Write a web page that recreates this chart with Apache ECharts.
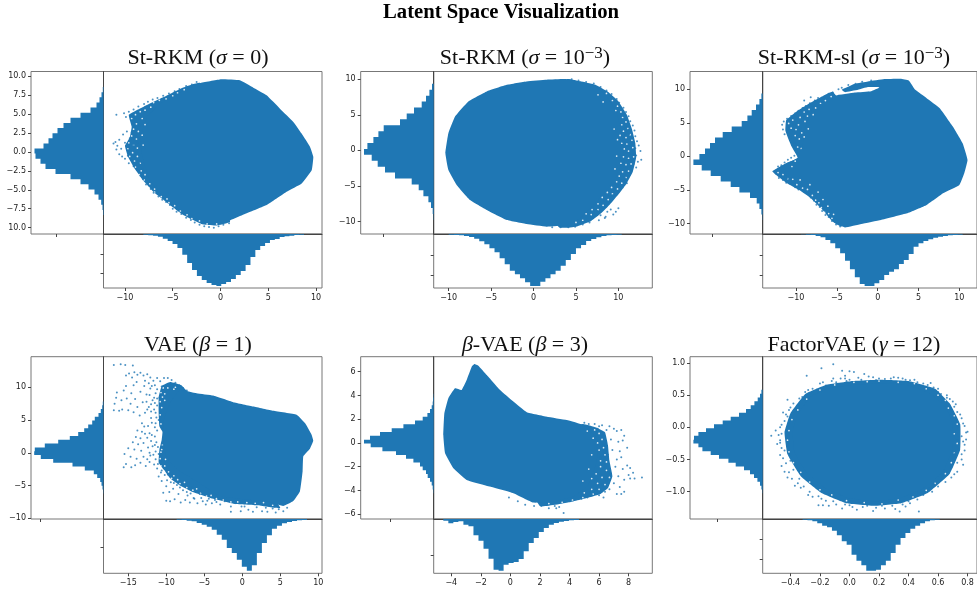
<!DOCTYPE html>
<html lang="en">
<head>
<meta charset="UTF-8">
<script src="https://cdn.jsdelivr.net/npm/echarts@6/dist/echarts.min.js"></script>
<title>Latent Space Visualization</title>
<style>html,body{margin:0;padding:0;background:#fff;overflow:hidden}</style>
</head>
<body>
<div id="main" style="width:977px;height:592px;"></div>
<script type="text/javascript">
// dense core of each cloud (data coordinates)
var core1 = [[-0.05,9.56],[2.04,9.43],[3.44,8.46],[4.83,7.46],[6.23,5.7],[7.63,3.95],[8.5,2.41],[9.37,0.66],[9.72,-0.66],[9.55,-2.41],[8.5,-4.17],[6.93,-5.26],[4.83,-7.02],[2.74,-8.11],[0.65,-9.21],[-0.75,-9.52],[-2.15,-9.21],[-3.54,-8.33],[-4.94,-7.24],[-6.33,-5.48],[-7.38,-3.73],[-8.08,-1.1],[-8.43,1.54],[-7.73,4.61],[-6.33,6.36],[-3.89,8.03],[-2.15,9.08]];
var core2 = [[1.55,9.91],[3.91,10],[7.05,9.2],[8.62,7.56],[9.8,5.22],[10.39,2.41],[10.59,-0.4],[10,-3.21],[8.62,-5.55],[7.05,-7.66],[5.48,-9.53],[3.91,-10.47],[1.55,-10.7],[-0.81,-10.33],[-3.16,-9.77],[-5.52,-8.36],[-7.49,-6.96],[-9.06,-4.85],[-10.04,-2.74],[-10.39,-0.4],[-10.04,2.41],[-9.25,4.75],[-7.68,6.86],[-5.52,8.27],[-3.16,9.2],[-0.81,9.67]];
var core3 = [[-8,6.92],[-6,8.66],[-5.2,9.06],[-2.8,9.5],[-0.8,9.7],[0.2,10.25],[-1.2,10.3],[-2.4,9.9],[-4,9.55],[-4.4,9.9],[-2.8,10.79],[-1.2,11.14],[0.8,11.49],[2.8,11.54],[3.8,11.29],[4.6,9.9],[6,8.66],[7.6,7.17],[9.2,4.44],[10.4,1.96],[11,-0.52],[10.6,-2.51],[10,-4.24],[8,-5.48],[6,-7.22],[3.6,-8.46],[0.4,-9.45],[-2,-10.05],[-4,-10.55],[-5.2,-9.95],[-6.4,-8.21],[-7.6,-5.98],[-9.2,-4.24],[-10.8,-3],[-12.7,-2.16],[-11.2,-1],[-9.8,-0.27],[-9.2,1.71],[-8.8,4.44]];
var core4 = [[-3.82,8.73],[-1.18,7.72],[1.45,7.06],[4.08,6.4],[7.15,5.8],[8.25,4.53],[9.12,2.76],[9.34,1.85],[8.9,0.63],[8.03,-0.53],[7.94,-2.81],[7.59,-5.85],[6.71,-7.37],[5.39,-8.13],[3.2,-7.37],[0.13,-7.11],[-2.94,-6.61],[-6.01,-4.33],[-8.2,-2.81],[-9.96,-0.78],[-10.39,2.25],[-10.39,4.78],[-9.52,7.57],[-8.2,9.59],[-6.01,9.09]];
var core5 = [[-2.44,6.64],[-2.17,6.5],[-1.6,5.72],[-0.7,4.46],[0.2,3.48],[1.11,2.58],[2.46,2.21],[3.81,1.93],[4.94,1.51],[5.85,0.39],[5.85,-1.57],[5.28,-3.53],[4.27,-4.51],[2.91,-4.93],[1.56,-5.02],[0.2,-4.23],[-1.38,-3.67],[-2.96,-3.11],[-3.86,-2.13],[-4.42,-0.87],[-4.54,0.67],[-4.47,2.5],[-4.2,3.76],[-3.75,4.6],[-3.3,4.46],[-2.96,5.3],[-2.62,6.42]];
var core6 = [[0.213,0.687],[0.39,0.66],[0.545,0.53],[0.656,0.3],[0.7,0.04],[0.7,-0.32],[0.634,-0.687],[0.5,-0.946],[0.346,-1.1],[0.169,-1.153],[-0.008,-1.1],[-0.163,-0.946],[-0.296,-0.687],[-0.374,-0.376],[-0.385,-0.065],[-0.351,0.194],[-0.263,0.479],[-0.141,0.609],[0.014,0.66]];

// outer edge of the thinner band around the core
var band1 = [[-2.15,9.1],[-3.9,8.5],[-6,7.2],[-8,6],[-9.6,4.9],[-9.3,3.3],[-9.5,1.9],[-10,0.8],[-9.7,-0.6],[-9,-2.2],[-8.2,-3.6],[-7,-5.3],[-5.5,-6.8],[-3.8,-8.4],[-2,-9.5],[-0.5,-9.7],[1,-9.2],[0,0]];
var band2 = [[3.9,10],[5.5,9.7],[7.3,9.2],[8.8,8.2],[10,6.9],[11,5],[11.6,3],[12,1],[12.1,-1],[11.7,-3],[10.9,-4.8],[10,-6.2],[9,-7.6],[8,-8.8],[6.8,-9.9],[5,-10.7],[3,-10.8],[0,0]];
var band3 = [[-9.8,-0.2],[-10.6,1.6],[-11.3,3.8],[-11.2,5.4],[-9.8,6.8],[-8.5,7.8],[-7,8.8],[-5.5,9.6],[0,0],[-4.4,-10.4],[-5.6,-9.6],[-7,-7.6],[-8.2,-6.2],[-9.6,-5],[-11.2,-3.9],[-12.4,-2.8],[-12.9,-2.2],[-11.5,-1.2]];
var band4 = [[-8,10.3],[-9.5,10.8],[-10.6,10.2],[-11,8.5],[-11,6],[-10.9,4],[-10.5,3.2],[-10.6,2],[-10.9,0.5],[-11,-1.5],[-10.3,-2.6],[-9.5,-3.9],[-8.2,-5],[-6.5,-6],[-4.2,-6.9],[-1,-7.8],[2,-8],[5,-8.4],[0,0]];
var band5 = [[4.9,1.6],[5.8,1.3],[6.4,0.9],[6.6,-0.2],[6.7,-1.5],[6.9,-2.8],[6.6,-3.8],[6.1,-4.3],[5.3,-4.6],[4,-5],[2,-5.3],[0,0]];
var band6 = [[0.2,0.74],[0.4,0.72],[0.58,0.6],[0.68,0.37],[0.75,0.05],[0.75,-0.35],[0.68,-0.72],[0.53,-1.02],[0.35,-1.18],[0.17,-1.22],[-0.02,-1.18],[-0.19,-1.02],[-0.33,-0.76],[-0.42,-0.42],[-0.44,-0.08],[-0.4,0.22],[-0.3,0.52],[-0.16,0.66],[0.02,0.72]];

// empty specks inside the band
var gaps1 = [[-9.3,4.4],[-8.9,4.9],[-8.4,5.3],[-8.8,3.7],[-8.2,4.4],[-7.9,5.5],[-7.3,5.9],[-7,6.5],[-6.4,6.8],[-5.7,7],[-5,7.4],[-4.5,7.8],[-3.8,8.2],[-9.1,3],[-8.6,2.7],[-9.3,2.1],[-8.8,1.7],[-9.6,1.2],[-9.1,0.9],[-9.7,0.4],[-8.7,0.5],[-9.2,-0.1],[-9.5,-0.6],[-8.7,-0.6],[-9,-1.2],[-8.4,-1.5],[-8.9,-2],[-8.3,-2.5],[-8.5,-3],[-7.9,-3],[-8,-3.7],[-7.4,-4.2],[-7.5,-4.7],[-6.9,-4.9],[-6.9,-5.3],[-6.2,-5.9],[-5.6,-6.2],[-5.4,-6.7],[-4.8,-7.1],[-4.2,-7.8],[-3.5,-8.3],[-3,-8.8],[-2.2,-9.1],[-1.4,-9.5],[-0.4,-9.5],[-8.1,0.9],[-8.2,2.2],[-7.9,3.6]];
var gaps2 = [[8.6,8],[9.3,7],[9.9,6.2],[10.3,5.4],[9.7,5.6],[10.5,4.6],[10.9,4],[10.4,3.6],[11.1,3.1],[10.6,2.7],[11.4,2.2],[10.9,1.8],[10.2,2.1],[11.6,1.4],[11,0.9],[10.4,1],[11.7,0.4],[11.2,-0.1],[10.7,0.2],[11.8,-0.9],[11.2,-1.1],[10.6,-0.9],[11.5,-1.9],[10.9,-2],[10.3,-1.8],[11.2,-2.9],[10.5,-3],[10.9,-3.8],[10.1,-3.6],[10.4,-4.6],[9.8,-4.4],[9.9,-5.4],[9.2,-5.2],[9.3,-6.1],[8.7,-5.9],[8.8,-6.9],[8.1,-6.6],[8.2,-7.7],[7.6,-7.5],[7.6,-8.3],[6.9,-8.3],[6.8,-9],[6.2,-8.9],[5.8,-9.8],[5,-10.1],[9.5,3],[9.9,1.5],[8.2,6.8],[7.6,7.8],[9.8,-0.8],[9.6,-2.6]];
var gaps3 = [[-10.9,4.9],[-10.6,4.2],[-10.4,5.4],[-10,4],[-10.1,3.1],[-9.7,4.7],[-9.5,5.8],[-9.6,2.6],[-9.3,3.5],[-9.4,1.2],[-9.8,1.4],[-9,6.6],[-8.9,5.2],[-9,2.9],[-8.6,6],[-8.4,7],[-8.5,4.1],[-7.9,6.2],[-7.6,7.2],[-7,7.9],[-6.4,8.3],[-5.7,8.9],[-5,9.2],[-12.2,-2.4],[-11.6,-2.7],[-11,-3.3],[-10.4,-3.4],[-9.9,-4.2],[-9.2,-4.7],[-8.6,-4.9],[-8,-5.8],[-7.6,-6.5],[-7.2,-6.9],[-6.9,-7.6],[-6.5,-8.3],[-6,-8.5],[-5.6,-9.2],[-8.3,-4.2],[-7.3,-5.3],[-6.7,-6.4],[-6.1,-7.4],[-5.4,-8.6],[-9.5,-3.5],[-10.5,-1.5],[-10.1,-0.7]];
var gaps4 = [[-10.4,9.9],[-10.7,9.2],[-10.8,7.8],[-10.8,5.8],[-10.6,6.9],[-10.7,4.4],[-9.8,9.9],[-9,9.7],[-8.8,10],[-10.2,9],[-10.2,8],[-10.5,8.5],[-10.5,1.2],[-10.7,0.1],[-10.8,-0.9],[-10.7,-2],[-10.2,-2],[-10.6,0.5],[-10.1,-1],[-9.7,-2.9],[-9,-3.5],[-9.3,-3.9],[-8.5,-4.1],[-8.2,-4.7],[-7.6,-4.5],[-7.3,-5.3],[-6.5,-5.7],[-6,-5.5],[-5.5,-6.2],[-4.7,-6.6],[-4.1,-6.5],[-3.4,-7],[-2.5,-7.2],[-1.5,-7.5],[-0.6,-7.5],[0.6,-7.6],[1.7,-7.7],[2.8,-7.6],[4,-8]];
var gaps5 = [[5.7,1.1],[6,0.8],[6.2,0.3],[5.9,0],[6.3,-0.4],[6,-0.6],[6.4,-1],[6.1,-1.5],[6.5,-1.6],[6.1,-2],[6.5,-2.3],[6.2,-2.9],[6.7,-2.9],[5.8,-2.6],[5.5,-3],[5.9,-3.4],[6.4,-3.5],[6,-3.9],[5.5,-3.9],[5.6,-4.3],[5,-4.2],[4.9,-4.6],[4.2,-4.8],[3.5,-5],[2.6,-5.1],[5.2,1],[5.6,0.4],[5.5,-1],[5.3,-2.2],[4.9,-3.2]];
var gaps6 = [[0.2,0.72],[0.33,0.7],[0.44,0.68],[0.52,0.6],[0.6,0.5],[0.65,0.42],[0.67,0.3],[0.71,0.18],[0.73,0.05],[0.71,-0.1],[0.73,-0.25],[0.71,-0.4],[0.69,-0.55],[0.65,-0.72],[0.58,-0.87],[0.52,-0.98],[0.43,-1.08],[0.33,-1.13],[0.22,-1.19],[0.1,-1.17],[-0.02,-1.14],[-0.12,-1.05],[-0.2,-0.97],[-0.27,-0.85],[-0.33,-0.7],[-0.38,-0.55],[-0.41,-0.38],[-0.42,-0.2],[-0.41,-0.05],[-0.39,0.12],[-0.35,0.27],[-0.29,0.44],[-0.2,0.58],[-0.1,0.66],[0.03,0.7],[0.12,0.71]];

// loose points around the core
var loose1 = [[-10.9,4.9],[-10.1,5.1],[-9.9,4.6],[-9.6,5.3],[-9.3,4.9],[-9.1,5.6],[-8.9,4.3],[-8.7,5.2],[-8.5,3.4],[-9.2,3.8],[-8.6,6],[-8.2,5.6],[-8,6.3],[-7.6,6.6],[-7.1,6.9],[-6.6,7.1],[-6,7.4],[-5.4,7.7],[-4.8,8],[-4.3,8.3],[-3.6,8.7],[-3,8.9],[-2.5,9.2],[-11.2,1.1],[-11,1.3],[-10.8,0.8],[-10.6,1.6],[-10.4,0.4],[-10.2,2.3],[-10,1.2],[-9.8,2.7],[-9.7,0.2],[-9.5,1.8],[-9.3,2.6],[-9.1,0.9],[-8.9,2.1],[-8.8,-0.2],[-8.7,1.2],[-10.9,0.3],[-10.6,-0.3],[-10.3,-0.6],[-10,-0.9],[-9.7,-0.5],[-9.6,-1.5],[-9.3,-1.1],[-9.1,-1.9],[-8.9,-0.8],[-8.7,-2.4],[-8.5,-1.6],[-8.4,-3.1],[-8.2,-2.3],[-8.1,-3.6],[-7.8,-4.3],[-7.6,-3.2],[-7.3,-4.9],[-7,-5.4],[-6.8,-4.5],[-6.5,-5.9],[-6.1,-6.3],[-5.7,-6.6],[-5.3,-7],[-5,-7.5],[-4.6,-7.9],[-4.1,-8.2],[-3.6,-8.7],[-3.1,-9],[-2.7,-9.3],[-2.2,-9.6],[-1.7,-9.8],[-1.2,-9.9],[-0.7,-10],[-0.2,-9.8],[0.3,-9.6],[0.9,-9.4]];
var loose2 = [[4.5,10],[5.3,9.8],[6.2,9.6],[7.1,9.4],[7.9,8.9],[8.6,8.4],[9.2,7.9],[9.8,7.2],[10.1,6.7],[10.6,6],[10.9,5.4],[11.2,4.8],[11.4,4.1],[10.5,4.4],[11.7,3.5],[11,3.2],[11.9,2.8],[12,2],[11.3,2.3],[12.2,1.3],[11.6,1.2],[12.4,0.7],[12,0.3],[11.2,0.6],[12.6,-0.1],[12.1,-0.7],[11.5,-0.5],[12.7,-1.3],[12.3,-1.6],[11.8,-1.9],[11.3,-1.4],[12.1,-2.4],[11.6,-2.8],[11,-2.3],[11.3,-3.5],[10.8,-3.9],[11,-4.6],[10.4,-4.2],[10.5,-5.2],[9.9,-4.9],[10,-5.9],[9.5,-5.6],[9.3,-6.3],[8.8,-6.5],[9,-7.2],[8.4,-7.1],[10,-8.1],[9.7,-8.6],[9.1,-8.3],[9.4,-9],[8.7,-8.6],[8.2,-8],[8.5,-9.3],[7.9,-9.1],[7.5,-8.5],[7.7,-9.8],[7,-9.5],[6.6,-10.1],[5.8,-10.4],[4.9,-10.7],[4.1,-10.8],[3.2,-10.8],[2.2,-10.8],[8.4,-9.5]];
var loose3 = [[-11.7,4.7],[-11.6,4],[-11.4,3.3],[-11.5,5.2],[-11.1,5.6],[-10.9,4.4],[-10.7,2.8],[-10.6,6],[-10.4,3.9],[-10.2,2],[-10.1,6.4],[-10,5],[-9.8,3],[-9.7,6.8],[-9.5,1.3],[-9.4,4.2],[-9.2,7.2],[-9,5.8],[-8.8,7.5],[-8.6,6.6],[-8.3,7.9],[-8,7.6],[-7.7,8.3],[-7.3,8.7],[-6.9,8.1],[-6.5,8.9],[-6,9.3],[-9,8.3],[-8.2,8.8],[-5.5,9.5],[-4.8,10],[-12.4,-2.6],[-12.1,-3.2],[-11.8,-2.9],[-11.6,-3.5],[-11.2,-3.9],[-11,-3.2],[-10.7,-4.1],[-10.4,-3.7],[-10.1,-4.6],[-9.7,-4.9],[-9.4,-4.5],[-9,-5.2],[-8.6,-5.5],[-8.2,-6.1],[-7.8,-6.6],[-7.5,-7.2],[-7.1,-7.5],[-6.8,-8.1],[-6.4,-8.7],[-6,-9],[-5.6,-9.6],[-5.1,-10.1],[-4.6,-10.4],[-12.2,-1.5],[-11.8,-1.3],[-11.4,-0.9],[-11,-0.5],[-10.6,-0.2],[-10.2,0.1],[-9.8,0.5],[-3.6,10.6],[-2.7,10.8],[-1.9,11.1],[-0.8,11.3],[-4.4,10.2]];
var loose4 = [[-16.9,13.4],[-16,13.5],[-15.4,13.4],[-14.4,13.3],[-15.3,11.8],[-14.9,12.1],[-14.5,11.5],[-14.2,12.3],[-13.8,11.9],[-13.4,12.2],[-13,11.8],[-12.5,12],[-12.1,11.5],[-11.7,11],[-11.2,11.4],[-10.8,10.9],[-10.3,11.4],[-9.8,11.4],[-9.3,11.1],[-8.8,10.7],[-8.3,10.3],[-7.8,9.9],[-7.3,9.5],[-6.8,9.1],[-6.2,8.9],[-5.4,8.8],[-16.5,9.2],[-16.6,8.4],[-16.8,7.5],[-16.9,6.5],[-16.2,6.4],[-15.8,6.6],[-15.9,8],[-15.6,9.5],[-15.3,10.2],[-15.2,8.3],[-15,6.5],[-14.7,7.5],[-14.6,9.1],[-14.3,10.3],[-14.3,6.2],[-14.1,8.2],[-13.9,10.8],[-13.8,7],[-13.5,5.7],[-13.4,9.3],[-13.2,4.5],[-13.1,7.7],[-12.9,10.2],[-12.8,6.1],[-12.6,8.9],[-12.4,4.1],[-12.3,7],[-12.1,9.8],[-12,5.3],[-11.8,8],[-11.6,6.6],[-11.5,3.9],[-11.4,9.1],[-11.2,7.2],[-11,5],[-10.9,8.4],[-10.7,6.2],[-10.6,10.1],[-10.5,3.8],[-13.8,3.4],[-13.2,3.2],[-12.8,2.9],[-14,2.4],[-13.4,2.2],[-12.5,2.3],[-14.4,1.6],[-13.7,1.3],[-13,1.5],[-12,1.8],[-15,0.7],[-14.2,0.5],[-13.3,0.3],[-12.4,0.8],[-11.5,2.5],[-11.4,0.2],[-15.5,-0.2],[-14.7,-0.6],[-13.9,-0.9],[-13,-0.6],[-12.1,-0.4],[-11,-0.2],[-15.3,-1.7],[-15.6,-2.2],[-14.6,-2.2],[-14.1,-1.9],[-13.4,-1.5],[-12.7,-2],[-12.2,-1.4],[-11.6,-1.8],[-11.2,-2.4],[-10.7,-1.2],[-10.4,1.2],[-10.6,-2.7],[-9.8,-3.3],[-11,-3.6],[-10.2,-3.4],[-9.4,-4.5],[-10.6,-4.3],[-10,-5.1],[-10.4,-6.1],[-10,-7.3],[-9.6,-6],[-9.1,-5.5],[-9.5,-7.4],[-8.9,-7.1],[-8.6,-4.9],[-8.4,-6.3],[-8.1,-7.6],[-7.8,-5.7],[-7.5,-7.2],[-7.2,-6.5],[-6.9,-7.6],[-6.6,-5.3],[-6.3,-7],[-5.9,-7.7],[-5.6,-6.3],[-5.2,-7.4],[-4.8,-7.9],[-4.4,-7],[-4,-7.7],[-3.4,-7.5],[-2.9,-7.9],[-2.3,-7.4],[-1.5,-8.2],[-1.1,-7.6],[-0.2,-8.9],[0.3,-8.2],[0.8,-8.7],[1.4,-9],[1.9,-8.3],[2.6,-8.9],[3.1,-8.4],[3.3,-9],[4,-8.5],[4.4,-9.1],[4.8,-8.6],[5.4,-8.9],[5.9,-8.4],[-1.5,-9],[-0.1,-8.2],[-12.8,11],[-12.3,10.6],[-11.9,10.2],[-11.5,10.3],[-11.2,9.7],[-12.2,8.8],[-11.6,8.4],[-11.2,8.3],[-12.6,7.8],[-12,7.4],[-11.5,7.6],[-12.5,6.6],[-12,6.3],[-11.4,6.1],[-11.3,5.4],[-11.9,4.6],[-11.4,4.5],[-11.2,3.4],[-12.9,4],[-12.2,3],[-11.9,2.7],[-11.3,1.6],[-11.8,1],[-11.5,1.2],[-11.1,0.9],[-12.2,0],[-11.7,-0.3],[-11.4,-1],[-11.1,-1.7],[-12.5,-1],[-10.7,-3],[-9.9,-4.2],[-9,-4.6],[-8.2,-5.3],[-7.3,-6],[-6.8,-6.2],[-6.4,-6.9],[-5.4,-6.9],[-4.6,-7.3],[-3.6,-7.2]];
var loose5 = [[5.9,1.2],[6.2,1.5],[6.5,1.1],[6.7,1.4],[7,1.2],[7.2,1],[7.5,1.1],[7.7,0.6],[6.2,0.6],[6.8,0.3],[7.3,0.1],[7.6,0.2],[7.9,-0.4],[7.4,-0.7],[6.9,-0.6],[6.3,-0.2],[6.6,-1],[7.2,-1.4],[7.5,-1.2],[6.1,-1.2],[7.9,-1.9],[8.1,-2.1],[8.3,-2.5],[8,-2.7],[7.6,-2.2],[7.1,-2],[6.4,-1.9],[6.8,-2.6],[7.3,-2.8],[7.7,-3.1],[8.1,-3],[8.9,-2.9],[8.4,-3],[6.1,-2.7],[6.5,-3.1],[7,-3.4],[7.4,-3.7],[7.7,-4.1],[7.2,-4.3],[6.7,-3.9],[6.4,-4.1],[6.2,-3.5],[5.9,-3.1],[5.8,-3.9],[6.3,-4.6],[6,-4.4],[5.5,-4.4],[5.2,-4.6],[4.8,-4.7],[7.5,-4.3],[5,1.7],[5.3,1.6],[5.7,1.6],[6,1.4],[3,-5.3],[3.3,-5.4],[3.1,-5.5],[3.6,-5.9],[2.6,-5.5],[2.1,-5.3],[1,-5.2],[1.6,-5.3],[0.5,-4.9],[-0.1,-4.6]];
var loose6 = [[-0.11,0.98],[-0.19,0.92],[-0.05,0.88],[-0.03,0.8],[0,0.87],[0.03,0.86],[-0.29,0.8],[-0.11,0.76],[-0.02,0.72],[0.13,0.79],[0.08,0.74],[0.18,0.73],[0.28,0.76],[0.33,0.77],[0.36,0.76],[0.41,0.73],[0.46,0.7],[0.55,0.69],[0.5,0.62],[0.57,0.62],[0.6,0.55],[0.66,0.5],[0.68,0.44],[0.63,0.4],[0.72,0.36],[0.69,0.28],[0.75,0.2],[0.72,0.12],[0.77,0.06],[0.73,0],[0.8,-0.07],[0.76,-0.14],[0.73,-0.2],[0.79,-0.19],[0.78,-0.27],[0.74,-0.34],[0.71,-0.41],[0.76,-0.5],[0.73,-0.55],[0.69,-0.62],[0.73,-0.69],[0.66,-0.74],[0.62,-0.82],[0.57,-0.88],[0.54,-0.95],[0.47,-1.02],[0.43,-1.06],[0.47,-1.31],[0.41,-1.18],[0.38,-1.23],[0.34,-1.31],[0.31,-1.27],[0.27,-1.17],[0.22,-1.22],[0.16,-1.3],[0.12,-1.22],[0.05,-1.28],[0,-1.21],[-0.05,-1.26],[-0.09,-1.2],[-0.14,-1.22],[-0.18,-1.21],[-0.21,-1.21],[-0.19,-1.11],[-0.25,-1.08],[-0.27,-1],[-0.31,-0.92],[-0.37,-0.91],[-0.34,-0.8],[-0.42,-0.78],[-0.44,-0.69],[-0.38,-0.66],[-0.46,-0.6],[-0.4,-0.52],[-0.47,-0.43],[-0.44,-0.36],[-0.49,-0.26],[-0.53,-0.13],[-0.47,-0.2],[-0.46,-0.1],[-0.47,0],[-0.41,0.02],[-0.5,-0.05],[-0.44,0.1],[-0.42,0.17],[-0.45,0.23],[-0.37,0.24],[-0.4,0.31],[-0.35,0.35],[-0.42,0.43],[-0.32,0.47],[-0.27,0.53],[-0.3,0.55],[-0.22,0.59],[-0.16,0.65],[-0.2,0.68],[-0.09,0.7],[0.2,0.76],[0.24,0.75],[0.06,0.77],[-0.03,0.76],[0.1,0.83],[0.16,0.78],[0.3,0.78],[0.38,0.74],[0.44,0.74],[0.5,0.68],[0.53,0.66],[0.6,0.6],[0.62,0.52],[0.66,0.46],[0.7,0.4],[0.71,0.32],[0.73,0.24],[0.76,0.14],[0.78,0.02],[0.79,-0.08],[0.77,-0.22],[0.78,-0.36],[0.76,-0.42],[0.77,-0.58],[0.71,-0.73],[0.69,-0.78],[0.65,-0.85],[0.6,-0.92],[0.56,-1],[0.5,-1.05],[0.46,-1.12],[0.4,-1.15],[0.36,-1.2],[0.29,-1.22],[0.24,-1.26],[0.18,-1.25],[0.09,-1.24],[0.02,-1.24],[-0.03,-1.2],[-0.11,-1.15],[-0.16,-1.14],[-0.21,-1.07],[-0.28,-1.05],[-0.33,-0.94],[-0.35,-0.87],[-0.39,-0.8],[-0.41,-0.7],[-0.43,-0.56],[-0.45,-0.48],[-0.46,-0.32],[-0.47,-0.24],[-0.48,-0.12],[-0.46,0.04],[-0.43,0.2],[-0.41,0.27],[-0.38,0.37],[-0.34,0.45],[-0.28,0.58],[-0.25,0.6],[-0.18,0.7],[-0.12,0.72],[-0.06,0.76],[0,0.74]];

// histogram under each cloud (x marginal), bar lengths
var xHist1 = [0.7,1.3,1.7,2.7,4.7,7,10,14,20.7,29,36,42,46,49,51,52,50,48,45,41,37,31,23,16,12,9,6,5,3,2.3,1.7,1,0.7];
var xHist2 = [0.7,1,1.3,2,3,4.7,7.3,10.3,14.3,18.3,24.3,30.3,36.7,40.3,44.3,48.3,52,52,47.7,44.3,40.3,36.7,31.7,26,20,14.3,11,7,5,3.3,2,1.3,1,0.7];
var xHist3 = [0.3,0.7,1,2,3.3,6,9.3,14.3,19.3,26.7,35.3,43.3,50,52,52,49.3,46,41,37.7,35.3,30,26,20,12.7,9.3,7,5.3,3.7,2.7,2,1.3,1,0.7];
var xHist4 = [0.7,1,1.7,2.3,4,5.7,7.7,10.7,15.7,20.7,29,34,40.7,47.7,51.7,46.3,34,24,16.3,9.7,6.7,4.3,3,2,1.3,1];
var xHist5 = [1.7,4.3,3,2.3,5.7,7.3,16.3,21.7,29.7,39.7,50.7,51.7,45.7,44,43,40,32.3,24,19,13,9,5.7,4,2.7,2,1.3,1];
var xHist6 = [0.7,1.3,2.3,4.3,6.7,8.3,11.7,16.3,22.3,25.7,35.7,41.7,46.3,51.7,51.7,50.7,46.3,41.7,34,25.7,19,14,9.7,6.7,4.3,2.3,1.3,0.7];

// histogram left of each cloud (y marginal), from low y to high y
var yHist1 = [0.5,1,2.3,5,9,15,23,33,48,58,63,68,69,60,55,51,46,40,33,23,13,7,4,2,0.7];
var yHist2 = [0.3,1,2.7,5.3,10.3,15,22,38.7,48.7,56,62,69.7,66.3,60.3,55.3,50,33.7,27,19.7,12,7.7,4.3,1.7];
var yHist3 = [0.3,1.3,3.3,6,12.7,23.3,32,42,52,61,69.3,63.3,57.7,52.7,47.7,40,31,21,15.3,11,6.7,3.3,1.3];
var yHist4 = [0.3,1,2,3.3,6.3,9.7,18.7,31,50.3,62.7,69.3,68.7,58.7,45.3,33.7,25.3,19.3,15.3,11.3,8.7,5,2.7,1.3,0.7];
var yHist5 = [0.3,1,2,3.7,6,7.7,11,13.7,20.3,27.7,37.7,51.3,63,69.7,63.7,53.7,42,30.3,18.7,11,6.3,3.7,2,1,0.7,0.3];
var yHist6 = [0.3,1.3,2.7,5.3,8.7,12.7,18.7,27,34.3,43.7,52,60.3,64.3,69.3,68.7,64.3,56.7,48.7,40,32,23.7,16.7,12,8.3,5,2.7,1.3];

// first bin edge and bin width of the histograms
var xBins = [[-8.08,0.51],[-10,0.6],[-9.4,0.6],[-8.64,0.66],[-4.54,0.34],[-0.318,0.0332]];
var yBins = [[-8.33,0.675],[-9.75,0.83],[-9.45,0.818],[-6.2,0.585],[-4.23,0.322],[-1.026,0.0596]];

// axis ranges
var xRanges = [[-12.25,10.63],[-11.77,14],[-14.08,12.16],[-18.26,10.49],[-5.19,9.6],[-0.588,0.864]];
var yRanges = [[-10.83,10.6],[-11.73,11.07],[-11.53,12.62],[-10.1,14.66],[-6.4,7.26],[-1.425,1.098]];

// tick values and tick labels
var xTicks = [[-10,-5,0,5,10],[-10,-5,0,5,10],[-10,-5,0,5,10],[-15,-10,-5,0,5,10],[-4,-2,0,2,4,6,8],[-0.4,-0.2,0,0.2,0.4,0.6,0.8]];
var xTickLabels = [
  ['−10','−5','0','5','10'],['−10','−5','0','5','10'],['−10','−5','0','5','10'],
  ['−15','−10','−5','0','5','10'],['−4','−2','0','2','4','6','8'],['−0.4','−0.2','0.0','0.2','0.4','0.6','0.8']
];
var yTicks = [[10,7.5,5,2.5,0,-2.5,-5,-7.5,-10],[10,5,0,-5,-10],[10,5,0,-5,-10],[10,5,0,-5,-10],[6,4,2,0,-2,-4,-6],[1,0.5,0,-0.5,-1]];
var yTickLabels = [
  ['10.0','7.5','5.0','2.5','0.0','−2.5','−5.0','−7.5','10.0'],
  ['10','5','0','−5','−10'],['10','5','0','−5','−10'],['10','5','0','−5','−10'],
  ['6','4','2','0','−2','−4','−6'],['1.0','0.5','0.0','−0.5','−1.0']
];
var xHistTicks = [[47.5],[50.4],[50.4],[62.8],[43],[45.4]];
var yHistTicks = [[20,39.5],[21,41],[21,41],[28.7],[36],[20.3,40]];

var panelTitles = [
  '{r|St-RKM (}{i|σ}{r| = 0)}',
  '{r|St-RKM (}{i|σ}{r| = 10}{s|−3}{r|)}',
  '{r|St-RKM-sl (}{i|σ}{r| = 10}{s|−3}{r|)}',
  '{r|VAE (}{i|β}{r| = 1)}',
  '{i|β}{r|-VAE (}{i|β}{r| = 3)}',
  '{r|FactorVAE (}{i|γ}{r| = 12)}'
];
var cores = [core1, core2, core3, core4, core5, core6];
var bands = [band1, band2, band3, band4, band5, band6];
var gaps = [gaps1, gaps2, gaps3, gaps4, gaps5, gaps6];
var looses = [loose1, loose2, loose3, loose4, loose5, loose6];
var xHists = [xHist1, xHist2, xHist3, xHist4, xHist5, xHist6];
var yHists = [yHist1, yHist2, yHist3, yHist4, yHist5, yHist6];

// layout in pixels
var colLeft = [31, 360.7, 690];
var colMain = [103.5, 433.7, 762.7];
var colWidth = [218.5, 218.6, 218.6];
var rowTop = [71.5, 356.7];
var rowMain = [162.5, 162.3];
var rowBottom = [54, 54.3];
var titleX = [198, 525, 854];
var titleY = [45, 332];

var blue = '#1f77b4';
var edge = '#777';
var tickCol = '#444';

var myChart = echarts.init(document.getElementById('main'));

var grids = [], xAxes = [], yAxes = [], series = [];
var titles = [{
  text: 'Latent Space Visualization',
  left: 501, top: 2, padding: 0, textAlign: 'center',
  textStyle: { fontFamily: 'Liberation Serif', fontWeight: 'bold', fontSize: 20.7, color: '#000' }
}];

// one polygon per outline, drawn when the first vertex comes round
function shapeItem(points, smooth) {
  return function (params, api) {
    if (params.dataIndex !== 0) return;
    return {
      type: 'polygon',
      shape: { points: points.map(function (p) { return api.coord(p); }), smooth: smooth },
      style: { fill: blue }
    };
  };
}
function stairs(values, bins, swap) {
  var pts = [[bins[0], 0]];
  values.forEach(function (v, i) {
    pts.push([bins[0] + i * bins[1], v]);
    pts.push([bins[0] + (i + 1) * bins[1], v]);
  });
  pts.push([bins[0] + values.length * bins[1], 0]);
  return swap ? pts.map(function (p) { return [p[1], p[0]]; }) : pts;
}
function tickAxis(ticks, labels, margin) {
  var o = {
    axisTick: { show: true, length: 3, customValues: ticks, lineStyle: { color: tickCol, width: 1 } }
  };
  if (labels) {
    o.axisLabel = {
      show: true, customValues: ticks, margin: margin, fontSize: 8, color: '#222', fontFamily: 'DejaVu Sans',
      hideOverlap: false, showMinLabel: true, showMaxLabel: true,
      formatter: function (v) {
        for (var i = 0; i < ticks.length; i++) if (Math.abs(ticks[i] - v) < 1e-6) return labels[i];
        return '';
      }
    };
  } else {
    o.axisLabel = { show: false };
  }
  return o;
}
function axis(gridIndex, range, extra) {
  var o = { type: 'value', min: range[0], max: range[1], axisLine: { show: false, onZero: false }, axisTick: { show: false }, axisLabel: { show: false }, splitLine: { show: false }, gridIndex: gridIndex };
  for (var k in extra) o[k] = extra[k];
  return o;
}

for (var n = 0; n < 6; n++) {
  var col = n % 3, row = Math.floor(n / 3);
  var g = grids.length;
  var gridBase = { show: true, borderColor: edge, borderWidth: 1, backgroundColor: 'transparent' };
  var sharedLine = { show: true, onZero: false, lineStyle: { color: '#444', width: 1 } };

  // cloud
  grids.push(Object.assign({ left: colMain[col], top: rowTop[row], width: colWidth[col], height: rowMain[row] }, gridBase));
  xAxes.push(axis(g, xRanges[n], { axisLine: sharedLine }));
  yAxes.push(axis(g, yRanges[n], { axisLine: sharedLine }));
  // left histogram
  grids.push(Object.assign({ left: colLeft[col], top: rowTop[row], width: colMain[col] - colLeft[col], height: rowMain[row] }, gridBase));
  xAxes.push(axis(g + 1, [0, colMain[col] - colLeft[col]], Object.assign({ inverse: true }, tickAxis(xHistTicks[n]))));
  yAxes.push(axis(g + 1, yRanges[n], tickAxis(yTicks[n], yTickLabels[n], 5)));
  // bottom histogram
  grids.push(Object.assign({ left: colMain[col], top: rowTop[row] + rowMain[row], width: colWidth[col], height: rowBottom[row] }, gridBase));
  xAxes.push(axis(g + 2, xRanges[n], tickAxis(xTicks[n], xTickLabels[n], 6)));
  yAxes.push(axis(g + 2, [0, rowBottom[row]], Object.assign({ inverse: true }, tickAxis(yHistTicks[n]))));

  series.push({
    type: 'custom', xAxisIndex: g, yAxisIndex: g, renderItem: shapeItem(bands[n], 0.1),
    data: bands[n], encode: { x: 0, y: 1 }, silent: true
  });
  series.push({
    type: 'custom', xAxisIndex: g, yAxisIndex: g, renderItem: shapeItem(cores[n], 0.1),
    data: cores[n], encode: { x: 0, y: 1 }, silent: true
  });
  series.push({
    type: 'scatter', xAxisIndex: g, yAxisIndex: g, data: gaps[n], symbolSize: 1.7,
    itemStyle: { color: '#fff', opacity: 0.85 }, silent: true
  });
  series.push({
    type: 'scatter', xAxisIndex: g, yAxisIndex: g, data: looses[n], symbolSize: 2,
    itemStyle: { color: blue }, silent: true
  });
  var yStair = stairs(yHists[n], yBins[n], true);
  var xStair = stairs(xHists[n], xBins[n], false);
  series.push({
    type: 'custom', xAxisIndex: g + 1, yAxisIndex: g + 1, renderItem: shapeItem(yStair, 0),
    data: yStair, encode: { x: 0, y: 1 }, silent: true
  });
  series.push({
    type: 'custom', xAxisIndex: g + 2, yAxisIndex: g + 2, renderItem: shapeItem(xStair, 0),
    data: xStair, encode: { x: 0, y: 1 }, silent: true
  });

  var mathStyle = { fontFamily: 'Liberation Serif', fontSize: 22, fontWeight: 'normal', color: '#111', lineHeight: 26 };
  titles.push({
    text: panelTitles[n],
    left: titleX[col], top: titleY[row], padding: 0, textAlign: 'center',
    textStyle: {
      fontWeight: 'normal',
      rich: {
        r: mathStyle,
        i: Object.assign({}, mathStyle, { fontStyle: 'italic' }),
        s: Object.assign({}, mathStyle, { fontSize: 17, verticalAlign: 'top' })
      }
    }
  });
}

var option = {
  backgroundColor: '#fff',
  animation: false,
  title: titles,
  grid: grids,
  xAxis: xAxes,
  yAxis: yAxes,
  series: series
};
myChart.setOption(option);
</script>
</body>
</html>
